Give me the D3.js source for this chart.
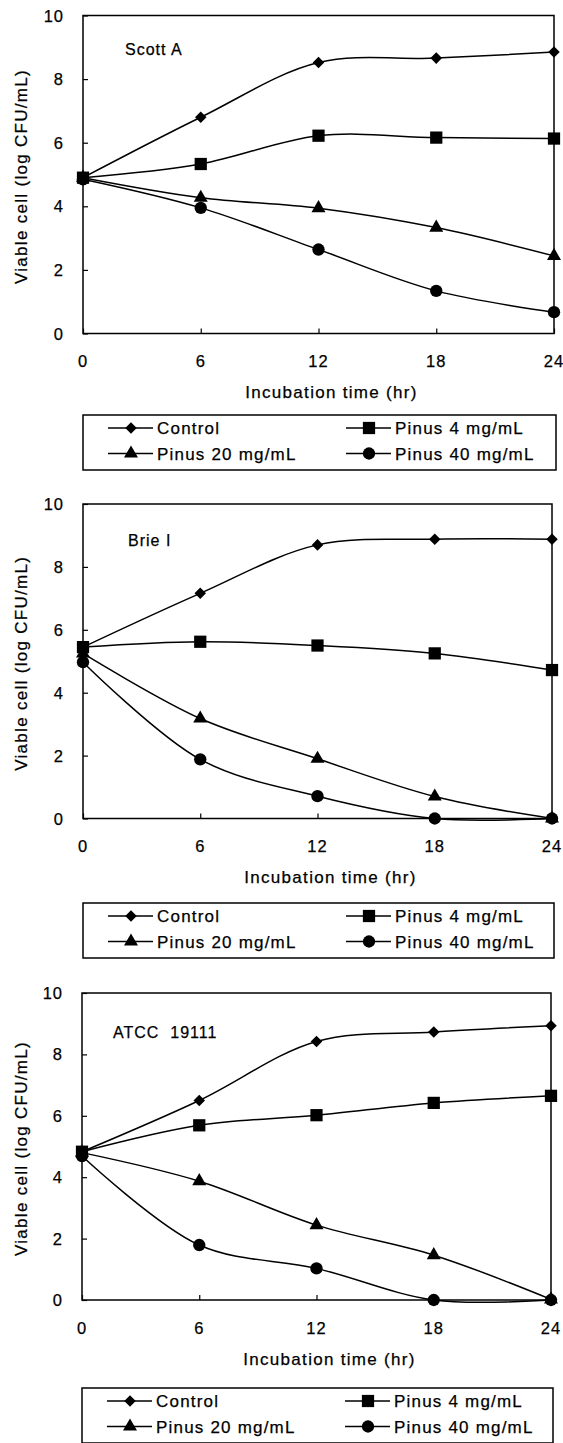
<!DOCTYPE html>
<html>
<head>
<meta charset="utf-8">
<script src="https://cdn.jsdelivr.net/npm/d3@7"></script>
<style>
  html, body { margin: 0; padding: 0; background: #fff; }
  svg { display: block; }
  text { font-family: "Liberation Sans", Arial, sans-serif; fill: #000; stroke: #000; stroke-width: 0.25px; white-space: pre; }
</style>
</head>
<body>
<div id="chart"></div>
<script>
// Data (log CFU/mL)
const hours = [0, 6, 12, 18, 24];
const yTicks = [0, 2, 4, 6, 8, 10];
const seriesNames = ["Control", "Pinus 4 mg/mL", "Pinus 20 mg/mL", "Pinus 40 mg/mL"];
const strainNames = ["Scott A", "Brie I", "ATCC  19111"];

const scottControl = [4.9, 6.8, 8.52, 8.66, 8.85];
const scottPinus4 = [4.9, 5.33, 6.22, 6.16, 6.13];
const scottPinus20 = [4.9, 4.27, 3.94, 3.33, 2.44];
const scottPinus40 = [4.85, 3.95, 2.64, 1.34, 0.67];

const brieControl = [5.45, 7.16, 8.7, 8.88, 8.88];
const briePinus4 = [5.45, 5.62, 5.5, 5.25, 4.72];
const briePinus20 = [5.25, 3.18, 1.9, 0.7, 0];
const briePinus40 = [4.97, 1.88, 0.71, 0, 0];

const atccControl = [4.83, 6.5, 8.42, 8.73, 8.93];
const atccPinus4 = [4.83, 5.69, 6.02, 6.42, 6.65];
const atccPinus20 = [4.8, 3.87, 2.44, 1.46, 0.02];
const atccPinus40 = [4.69, 1.79, 1.03, 0, 0];

const strainData = [
    [scottControl, scottPinus4, scottPinus20, scottPinus40],
    [brieControl, briePinus4, briePinus20, briePinus40],
    [atccControl, atccPinus4, atccPinus20, atccPinus40]
];

// Layout of the three stacked panels
const panels = [
    { top: 15.5, bottom: 333.5, left: 83, right: 554, labelX: 125, labelY: 48.5, legendTop: 415 },
    { top: 504, bottom: 818.5, left: 83, right: 552, labelX: 128, labelY: 540, legendTop: 903 },
    { top: 993, bottom: 1300, left: 82, right: 551, labelX: 113, labelY: 1032, legendTop: 1388 }
];

const symbols = [d3.symbolDiamond2, d3.symbolSquare, d3.symbolTriangle, d3.symbolCircle];
const symbolSizes = [85, 150, 85, 120];

const svg = d3.select('#chart')
    .append('svg')
    .attr('width', 563)
    .attr('height', 1443);

function drawMarker(g, i, x, y) {
    g.append('path')
        .attr('d', d3.symbol().type(symbols[i]).size(symbolSizes[i])())
        .attr('transform', `translate(${x},${y})`)
        .attr('fill', '#000');
}

panels.forEach((p, pi) => {
    const x = d3.scaleLinear().domain([0, 24]).range([p.left, p.right]);
    const y = d3.scaleLinear().domain([0, 10]).range([p.bottom, p.top]);
    const g = svg.append('g');

    // plot frame
    g.append('rect')
        .attr('x', p.left)
        .attr('y', p.top)
        .attr('width', p.right - p.left)
        .attr('height', p.bottom - p.top)
        .attr('fill', 'none')
        .attr('stroke', '#000')
        .attr('stroke-width', 1.5);

    // inside ticks
    const xAxis = g.append('g')
        .attr('transform', `translate(0,${p.bottom})`)
        .call(d3.axisBottom(x).tickValues(hours).tickSize(-5).tickFormat(''));
    const yAxis = g.append('g')
        .attr('transform', `translate(${p.left},0)`)
        .call(d3.axisLeft(y).tickValues(yTicks).tickSize(-5).tickFormat(''));
    [xAxis, yAxis].forEach(a => {
        a.select('.domain').remove();
        a.selectAll('line').attr('stroke', '#000').attr('stroke-width', 1.2);
    });

    // tick labels
    g.selectAll('.xl')
        .data(hours)
        .join('text')
        .attr('x', d => x(d))
        .attr('y', p.bottom + 33.5)
        .attr('text-anchor', 'middle')
        .style('font-size', '16.5px')
        .style('letter-spacing', '1px')
        .text(d => d);

    g.selectAll('.yl')
        .data(yTicks)
        .join('text')
        .attr('x', p.left - 19)
        .attr('y', d => y(d) + 6)
        .attr('text-anchor', 'end')
        .style('font-size', '16.5px')
        .style('letter-spacing', '1px')
        .text(d => d);

    // axis titles
    g.append('text')
        .attr('x', (p.left + p.right) / 2 + 13)
        .attr('y', p.bottom + 64.5)
        .attr('text-anchor', 'middle')
        .style('font-size', '17px')
        .style('letter-spacing', '1.3px')
        .text('Incubation time (hr)');

    g.append('text')
        .attr('transform', `translate(27,${(p.top + p.bottom) / 2 + 2}) rotate(-90)`)
        .attr('text-anchor', 'middle')
        .style('font-size', '17px')
        .style('letter-spacing', '1.3px')
        .text('Viable cell (log CFU/mL)');

    // strain label
    g.append('text')
        .attr('x', p.labelX)
        .attr('y', p.labelY + 6)
        .attr('xml:space', 'preserve')
        .style('font-size', '16px')
        .style('letter-spacing', '1px')
        .text(strainNames[pi]);

    // series
    const line = d3.line()
        .x((d, i) => x(hours[i]))
        .y(d => y(d))
        .curve(d3.curveCatmullRom.alpha(0.5));

    strainData[pi].forEach(vals => {
        g.append('path')
            .datum(vals)
            .attr('d', line)
            .attr('fill', 'none')
            .attr('stroke', '#000')
            .attr('stroke-width', 1.5);
    });
    // markers on top, drawn so Control sits above the others at t=0
    for (let si = strainData[pi].length - 1; si >= 0; si--) {
        strainData[pi][si].forEach((v, i) => drawMarker(g, si, x(hours[i]), y(v)));
    }

    // legend
    const lt = p.legendTop;
    g.append('rect')
        .attr('x', p.left)
        .attr('y', lt)
        .attr('width', p.right - p.left + 2)
        .attr('height', 55)
        .attr('fill', 'none')
        .attr('stroke', '#000')
        .attr('stroke-width', 1.5);

    const colX = [p.left + 25, p.left + 263];
    const rowY = [lt + 13, lt + 38.5];
    seriesNames.forEach((name, si) => {
        const cx = colX[si % 2];
        const cy = rowY[Math.floor(si / 2)];
        g.append('line')
            .attr('x1', cx)
            .attr('x2', cx + 45)
            .attr('y1', cy)
            .attr('y2', cy)
            .attr('stroke', '#000')
            .attr('stroke-width', 1.5);
        drawMarker(g, si, cx + 23, cy);
        g.append('text')
            .attr('x', cx + 49)
            .attr('y', cy + 6)
            .style('font-size', '17px')
            .style('letter-spacing', '1.2px')
            .text(name);
    });
});
</script>
</body>
</html>
